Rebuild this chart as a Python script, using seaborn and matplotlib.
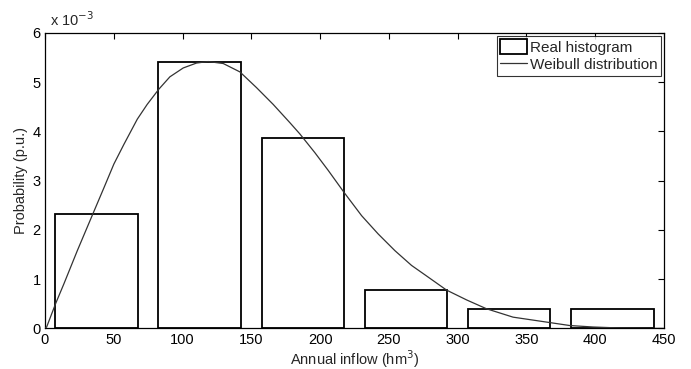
import matplotlib
matplotlib.use("Agg")
import matplotlib.pyplot as plt
import seaborn as sns
import pandas as pd
from matplotlib.patches import Patch
from matplotlib.lines import Line2D
from matplotlib.ticker import FuncFormatter

# ---- data ----
bin_centers = [37.5, 112.5, 187.5, 262.5, 337.5, 412.5]
hist_prob = [0.00233, 0.00542, 0.00386, 0.00078, 0.00039, 0.00039]

# Weibull curve, points (probability in 1e-3)
curve_x = [0, 1.2, 7.8, 13.8, 23.5, 34.4, 42.9, 50.1, 57.4, 67.1, 74.3, 82.8,
           90.8, 100.5, 110.2, 118.7, 129.6, 141.7, 153.8, 165.9, 178, 185.3,
           196.2, 205.9, 217.5, 230.2, 242.2, 254.4, 266.5, 276.2, 291.9,
           306.5, 321, 340.3, 367, 381.5, 398.5, 417.9, 450]
curve_y = [0.0, 0.03, 0.51, 0.91, 1.58, 2.30, 2.86, 3.34, 3.74, 4.25, 4.55,
           4.86, 5.11, 5.29, 5.39, 5.42, 5.38, 5.21, 4.89, 4.55, 4.18, 3.95,
           3.57, 3.21, 2.76, 2.29, 1.92, 1.58, 1.28, 1.09, 0.78, 0.58, 0.40,
           0.23, 0.12, 0.06, 0.03, 0.01, 0.0]
curve_y = [v * 1e-3 for v in curve_y]

x_ticks = [0, 50, 100, 150, 200, 250, 300, 350, 400, 450]
y_ticks = [0, 0.001, 0.002, 0.003, 0.004, 0.005, 0.006]

hist_df = pd.DataFrame({"inflow": bin_centers, "prob": hist_prob})
curve_df = pd.DataFrame({"inflow": curve_x, "prob": curve_y})

sns.set_style("white")
plt.rcParams["font.family"] = ["Liberation Sans", "DejaVu Sans"]

fig = plt.figure(figsize=(6.91, 3.69), dpi=100)
ax = fig.add_axes([0.0651, 0.1098, 0.8958, 0.8008])

sns.barplot(data=hist_df, x="inflow", y="prob", native_scale=True,
            width=0.8, color="white", edgecolor="black", linewidth=1.3,
            saturation=1, ax=ax, zorder=1)
sns.lineplot(data=curve_df, x="inflow", y="prob", color="#333333",
             linewidth=0.9, estimator=None, sort=False, ax=ax, zorder=3)

ax.set_xlim(0, 450)
ax.set_ylim(0, 0.006)
ax.set_xticks(x_ticks)
ax.set_yticks(y_ticks)
ax.yaxis.set_major_formatter(FuncFormatter(lambda v, p: f"{v*1000:g}"))
ax.set_axisbelow(True)
ax.tick_params(direction="in", length=4, width=0.8, top=True, right=True,
               labelsize=10.5, colors="black", pad=3)
for s in ax.spines.values():
    s.set_color("black")
    s.set_linewidth(0.9)

ax.set_xlabel("Annual inflow (hm$^3$)", fontsize=10.5, labelpad=1)
ax.set_ylabel("Probability (p.u.)", fontsize=10.5, labelpad=3)
ax.text(0.008, 1.012, "x 10$^{-3}$", transform=ax.transAxes, fontsize=10.5,
        ha="left", va="bottom")

handles = [Patch(facecolor="white", edgecolor="black", linewidth=1.3),
           Line2D([0], [0], color="#333333", linewidth=0.9)]
leg = ax.legend(handles, ["Real histogram", "Weibull distribution"],
                loc="upper right", fontsize=11, frameon=True, fancybox=False,
                edgecolor="black", handlelength=1.75, handleheight=1.1,
                handletextpad=0.2, borderpad=0.2, labelspacing=0.15,
                borderaxespad=0.2)
leg.get_frame().set_linewidth(0.8)

fig.savefig("out.png", dpi=100, facecolor="white")
